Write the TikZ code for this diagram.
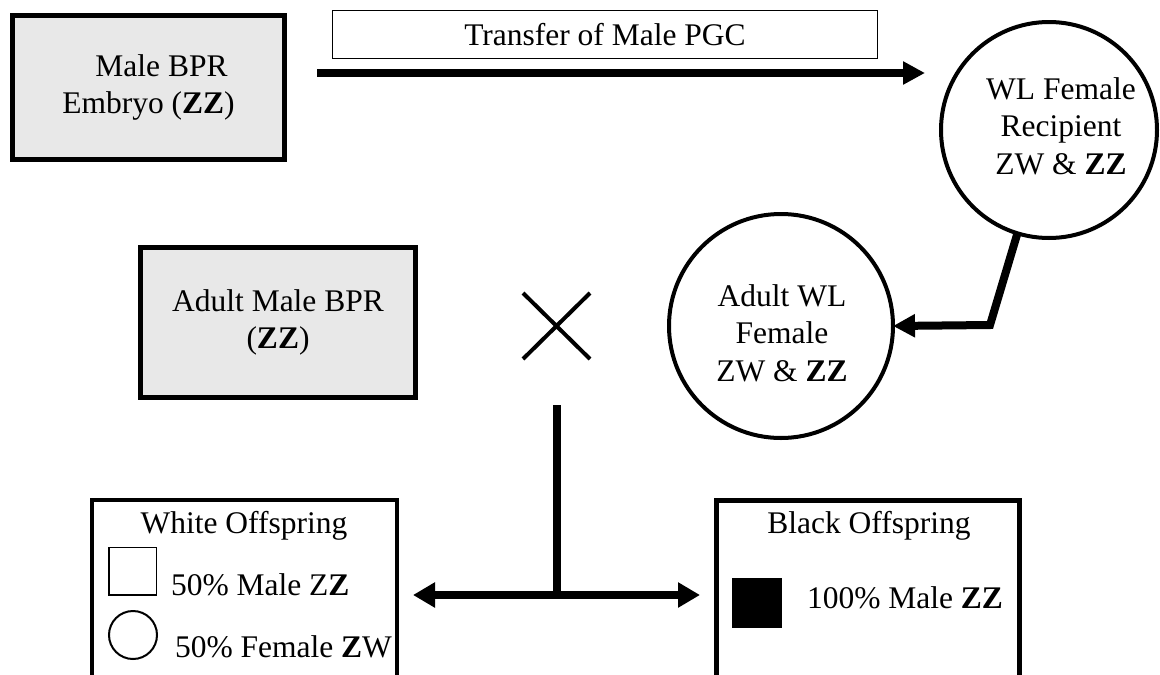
\documentclass[tikz,border=0pt]{standalone}
\usepackage{fontspec}
\setmainfont{Liberation Serif}
\usetikzlibrary{arrows.meta,shapes.misc}
\definecolor{boxgray}{HTML}{E8E8E8}
\begin{document}
\begin{tikzpicture}[x=1pt,y=-1pt,
  every node/.style={font=\fontsize{31.5pt}{37.5pt}\selectfont, inner sep=0pt, outer sep=0pt},
  txt/.style={align=center},
  graybox/.style={draw, line width=5pt, fill=boxgray, align=center, minimum width=272pt, minimum height=144pt},
  ring/.style={circle, draw, line width=4pt},
  offbox/.style={draw, minimum height=220pt},
  heavy/.style={line width=8pt},
  heavyarrow/.style={line width=8pt, -{Triangle[length=22pt,width=22pt]}},
  splitarrow/.style={line width=8pt, {Triangle[length=22pt,width=24pt]}-{Triangle[length=22pt,width=24pt]}},
]
\useasboundingbox (0,0) rectangle (1160,675);
\clip (0,0) rectangle (1160,675);

% donor embryo and transfer label
\node[graybox] (embryo) at (148.5,87.5) {\hspace*{26pt}Male BPR\\Embryo (\textbf{ZZ})};
\node[draw, line width=1.5pt, minimum width=545pt, minimum height=48pt] (transfer) at (605,34.5) {Transfer of Male PGC};
\coordinate (tstart) at (317,73);
\coordinate (tend) at (925,73);
\draw[heavyarrow] (tstart) -- (tend);

% recipient hen
\node[ring, minimum size=216pt] (recip) at (1049,130) {};
\node[txt] (reciptext) at (1061,126) {WL Female\\Recipient\\ZW \& \textbf{ZZ}};

% adult recipient hen
\node[ring, minimum size=224pt] (adult) at (781,326) {};
\node[txt] (adulttext) at (782,333) {Adult WL\\Female\\ZW \& \textbf{ZZ}};
\coordinate (bend) at (990,325);
\draw[heavyarrow] (recip.253) -- (bend) -- (adult.east);

% adult male and cross
\node[graybox, minimum width=275pt, minimum height=150pt] (male) at (278,322.5) {Adult Male BPR\\(\textbf{ZZ})};
\node[cross out, draw, line width=4pt, minimum width=67pt, minimum height=66pt] (cross) at (556.5,326) {};

% split to offspring
\coordinate (vtop) at (557,405);
\coordinate (junc) at (557,595);
\coordinate (ltip) at (413,595);
\coordinate (rtip) at (700,595);
\draw[heavy] (vtop) -- (junc);
\draw[splitarrow] (ltip) -- (rtip);

% white offspring
\node[offbox, line width=4pt, minimum width=305pt] (white) at (244.5,610) {};
\node[anchor=base] (whitetitle) at (244,533) {White Offspring};
\node[draw, line width=1.5pt, minimum size=47.5pt] (msq) at (132.5,571) {};
\node[anchor=base west] (mtext) at (171,595) {50\% Male Z\textbf{Z}};
\node[circle, draw, line width=2pt, minimum size=48pt] (fcirc) at (133,635) {};
\node[anchor=base west] (ftext) at (175,657) {50\% Female \textbf{Z}W};

% black offspring
\node[offbox, line width=5pt, minimum width=303pt] (black) at (868,610.5) {};
\node[anchor=base] (blacktitle) at (869,533) {Black Offspring};
\node[fill=black, minimum size=50pt] (bsq) at (757,602.5) {};
\node[anchor=base west] (btext) at (807,608) {100\% Male \textbf{ZZ}};
\end{tikzpicture}
\end{document}
